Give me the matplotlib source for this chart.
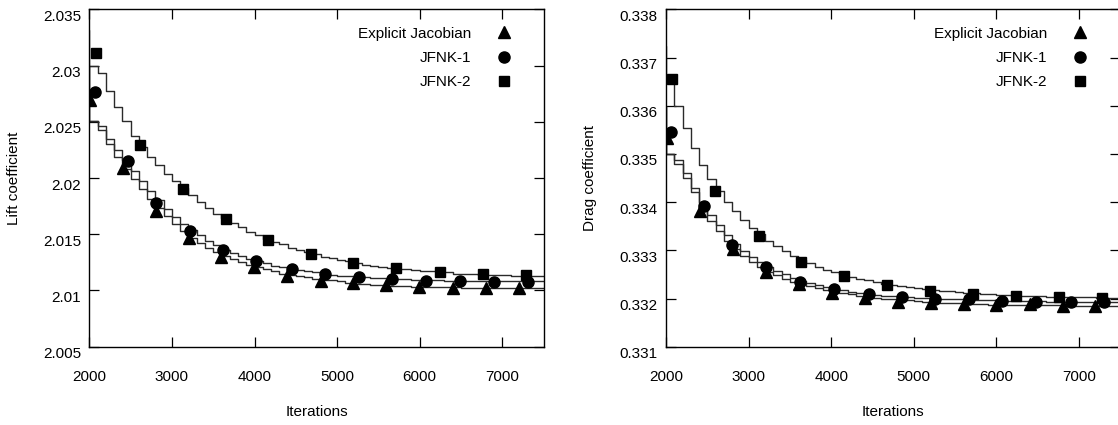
import matplotlib
matplotlib.use('Agg')
import matplotlib.pyplot as plt
from matplotlib.transforms import ScaledTranslation

plt.rcParams['font.family'] = ['Liberation Sans', 'DejaVu Sans']

# ---------------- data ----------------
# step-curve sample iterations (one step every 100 iterations, first entry precedes the axis start)
step_iters = [1900, 2000, 2100, 2200, 2300, 2400, 2500, 2600, 2700, 2800, 2900,
              3000, 3100, 3200, 3300, 3400, 3500, 3600, 3700, 3800, 3900,
              4000, 4100, 4200, 4300, 4400, 4500, 4600, 4700, 4800, 4900,
              5000, 5100, 5200, 5300, 5400, 5500, 5600, 5700, 5800, 5900,
              6000, 6100, 6200, 6300, 6400, 6500, 6600, 6700, 6800, 6900,
              7000, 7100, 7200, 7300, 7400, 7500]

lift_explicit_line = [2.0300, 2.0251, 2.0243, 2.0230, 2.0219, 2.0208, 2.0199, 2.0190, 2.0181, 2.0173, 2.0166,
                      2.0159, 2.0153, 2.0147, 2.0142, 2.0138, 2.0134, 2.0131, 2.0128, 2.0125, 2.0123,
                      2.0121, 2.0119, 2.0117, 2.0115, 2.0114, 2.0113, 2.0112, 2.0110, 2.0109, 2.0109,
                      2.0108, 2.0107, 2.0106, 2.0106, 2.0105, 2.0105, 2.0104, 2.0104, 2.0104, 2.0103,
                      2.0103, 2.0103, 2.0103, 2.0103, 2.0103, 2.0102, 2.0102, 2.0102, 2.0102, 2.0102,
                      2.0102, 2.0102, 2.0102, 2.0102, 2.0102, 2.0102]
lift_jfnk1_line = [2.0300, 2.0251, 2.0246, 2.0235, 2.0225, 2.0216, 2.0206, 2.0197, 2.0188, 2.0180, 2.0172,
                   2.0165, 2.0159, 2.0154, 2.0149, 2.0144, 2.0140, 2.0136, 2.0133, 2.0131, 2.0128,
                   2.0126, 2.0124, 2.0122, 2.0121, 2.0120, 2.0118, 2.0117, 2.0116, 2.0115, 2.0114,
                   2.0113, 2.0113, 2.0112, 2.0112, 2.0111, 2.0111, 2.0110, 2.0110, 2.0110, 2.0109,
                   2.0109, 2.0109, 2.0109, 2.0108, 2.0108, 2.0108, 2.0108, 2.0108, 2.0108, 2.0108,
                   2.0108, 2.0108, 2.0108, 2.0108, 2.0108, 2.0108]
lift_jfnk2_line = [2.0332, 2.0300, 2.0293, 2.0277, 2.0263, 2.0251, 2.0237, 2.0228, 2.0219, 2.0212, 2.0204,
                   2.0197, 2.0191, 2.0185, 2.0179, 2.0173, 2.0168, 2.0164, 2.0160, 2.0156, 2.0152,
                   2.0149, 2.0146, 2.0143, 2.0141, 2.0138, 2.0136, 2.0134, 2.0132, 2.0130, 2.0129,
                   2.0127, 2.0126, 2.0124, 2.0123, 2.0122, 2.0121, 2.0120, 2.0119, 2.0119, 2.0118,
                   2.0117, 2.0117, 2.0116, 2.0116, 2.0115, 2.0115, 2.0115, 2.0114, 2.0114, 2.0114,
                   2.0114, 2.0113, 2.0113, 2.0113, 2.0113, 2.0113]

drag_explicit_line = [0.33600, 0.33500, 0.33480, 0.33450, 0.33420, 0.33386, 0.33360, 0.33340, 0.33320, 0.33303, 0.33289,
                      0.33276, 0.33265, 0.33256, 0.33248, 0.33241, 0.33235, 0.33230, 0.33225, 0.33221, 0.33218,
                      0.33214, 0.33211, 0.33209, 0.33206, 0.33204, 0.33202, 0.33200, 0.33198, 0.33197, 0.33196,
                      0.33194, 0.33193, 0.33192, 0.33191, 0.33190, 0.33190, 0.33189, 0.33188, 0.33188, 0.33187,
                      0.33187, 0.33187, 0.33186, 0.33186, 0.33186, 0.33186, 0.33186, 0.33186, 0.33185, 0.33185,
                      0.33185, 0.33185, 0.33185, 0.33185, 0.33185, 0.33185]
drag_jfnk1_line = [0.33600, 0.33500, 0.33488, 0.33460, 0.33430, 0.33400, 0.33374, 0.33352, 0.33332, 0.33314, 0.33299,
                   0.33286, 0.33275, 0.33265, 0.33257, 0.33250, 0.33243, 0.33237, 0.33232, 0.33228, 0.33224,
                   0.33220, 0.33217, 0.33214, 0.33212, 0.33210, 0.33208, 0.33206, 0.33205, 0.33204, 0.33203,
                   0.33202, 0.33201, 0.33200, 0.33199, 0.33199, 0.33198, 0.33198, 0.33197, 0.33197, 0.33196,
                   0.33196, 0.33195, 0.33195, 0.33194, 0.33194, 0.33194, 0.33193, 0.33193, 0.33193, 0.33193,
                   0.33193, 0.33193, 0.33193, 0.33193, 0.33193, 0.33193]
drag_jfnk2_line = [0.33724, 0.33660, 0.33600, 0.33553, 0.33512, 0.33477, 0.33447, 0.33422, 0.33400, 0.33381, 0.33363,
                   0.33347, 0.33333, 0.33320, 0.33309, 0.33298, 0.33289, 0.33280, 0.33273, 0.33266, 0.33260,
                   0.33255, 0.33250, 0.33245, 0.33241, 0.33238, 0.33234, 0.33231, 0.33228, 0.33226, 0.33224,
                   0.33222, 0.33220, 0.33218, 0.33216, 0.33215, 0.33213, 0.33212, 0.33211, 0.33210, 0.33209,
                   0.33208, 0.33207, 0.33206, 0.33206, 0.33205, 0.33205, 0.33204, 0.33204, 0.33204, 0.33203,
                   0.33203, 0.33203, 0.33202, 0.33202, 0.33202, 0.33202]

# marker samples
lift_explicit_x = [2009, 2411, 2808, 3201, 3599, 3997, 4398, 4800, 5198, 5596, 5997, 6399, 6797, 7199]
lift_explicit_y = [2.02694, 2.02086, 2.01709, 2.01463, 2.01300, 2.01205, 2.01128, 2.01087, 2.01063,
                   2.01045, 2.01033, 2.01021, 2.01019, 2.01021]
lift_jfnk1_x = [2065, 2467, 2808, 3219, 3616, 4018, 4450, 4852, 5263, 5665, 6071, 6486, 6896, 7307]
lift_jfnk1_y = [2.02768, 2.02154, 2.01780, 2.01531, 2.01359, 2.01262, 2.01193, 2.01146, 2.01122,
                2.01105, 2.01087, 2.01087, 2.01078, 2.01078]
lift_jfnk2_x = [2078, 2614, 3132, 3651, 4169, 4688, 5198, 5717, 6244, 6762, 7281]
lift_jfnk2_y = [2.03115, 2.02293, 2.01899, 2.01632, 2.01448, 2.01324, 2.01241, 2.01196, 2.01161,
                2.01146, 2.01134]

drag_explicit_x = [2013, 2410, 2812, 3209, 3611, 4008, 4409, 4811, 5208, 5605, 5998, 6408, 6806, 7194]
drag_explicit_y = [0.33532, 0.33382, 0.33302, 0.33256, 0.33230, 0.33211, 0.33202, 0.33193, 0.33190,
                   0.33189, 0.33186, 0.33188, 0.33185, 0.33185]
drag_jfnk1_x = [2056, 2466, 2803, 3209, 3620, 4034, 4453, 4855, 5260, 5674, 6071, 6481, 6900, 7302]
drag_jfnk1_y = [0.33546, 0.33392, 0.33311, 0.33265, 0.33235, 0.33219, 0.33209, 0.33204, 0.33200,
                0.33198, 0.33195, 0.33193, 0.33193, 0.33192]
drag_jfnk2_x = [2078, 2596, 3122, 3640, 4158, 4676, 5194, 5712, 6235, 6753, 7280]
drag_jfnk2_y = [0.33655, 0.33422, 0.33330, 0.33275, 0.33247, 0.33227, 0.33216, 0.33209, 0.33205,
                0.33204, 0.33202]

series_labels = ['Explicit Jacobian', 'JFNK-1', 'JFNK-2']
x_ticks = [2000, 3000, 4000, 5000, 6000, 7000]
lift_ticks = [2.005, 2.01, 2.015, 2.02, 2.025, 2.03, 2.035]
lift_ticklabels = ['2.005', '2.01', '2.015', '2.02', '2.025', '2.03', '2.035']
drag_ticks = [0.331, 0.332, 0.333, 0.334, 0.335, 0.336, 0.337, 0.338]
drag_ticklabels = ['0.331', '0.332', '0.333', '0.334', '0.335', '0.336', '0.337', '0.338']

# ---------------- figure ----------------
W, H = 1118, 425
fig = plt.figure(figsize=(W / 100, H / 100), dpi=100)
ax_l = fig.add_axes([89.3 / W, 78.3 / H, 454.3 / W, 337.4 / H])
ax_r = fig.add_axes([666.0 / W, 78.3 / H, 454.3 / W, 337.4 / H])

FS = 11
line_kw = dict(color='#2a2a2a', lw=1.0, drawstyle='steps-post', zorder=2)
mk_kw = dict(color='black', linestyle='none', zorder=3)


def draw(ax, lines, markers, yticks, yticklabels, ylim, ylabel):
    for ys in lines:
        ax.plot(step_iters, ys, **line_kw)
    shapes = ['^', 'o', 's']
    sizes = [8.5, 8, 7.5]
    for (mx, my), shp, sz, lab in zip(markers, shapes, sizes, series_labels):
        ax.plot(mx, my, marker=shp, ms=sz, label=lab, **mk_kw)
    ax.set_xlim(2000, 7500)
    ax.set_ylim(*ylim)
    ax.set_xticks(x_ticks)
    ax.set_xticklabels([str(v) for v in x_ticks])
    ax.set_yticks(yticks)
    ax.set_yticklabels(yticklabels)
    ax.tick_params(direction='in', length=7, width=0.9, top=True, right=True,
                   labelsize=FS, colors='black')
    ax.tick_params(axis='x', pad=17)
    ax.tick_params(axis='y', pad=6)
    for sp in ax.spines.values():
        sp.set_linewidth(1.0)
    # y tick labels sit slightly below their tick marks
    off = ScaledTranslation(0, -6 / 100, fig.dpi_scale_trans)
    for t in ax.yaxis.get_major_ticks():
        t.label1.set_transform(t.label1.get_transform() + off)

    ax.set_xlabel('Iterations', fontsize=FS)
    ax.xaxis.set_label_coords(0.5, -(412 - 346.7) / 337.4)
    ax.xaxis.label.set_va('center')
    ax.set_ylabel(ylabel, fontsize=FS)
    ax.yaxis.label.set_va('center')

    leg = ax.legend(loc='upper right', bbox_to_anchor=(0.9287, 0.948), markerfirst=False,
                    frameon=False, fontsize=FS, handlelength=1.0, handletextpad=1.64,
                    labelspacing=0.66, borderpad=0, borderaxespad=0)
    return leg


draw(ax_l,
     [lift_explicit_line, lift_jfnk1_line, lift_jfnk2_line],
     [(lift_explicit_x, lift_explicit_y), (lift_jfnk1_x, lift_jfnk1_y), (lift_jfnk2_x, lift_jfnk2_y)],
     lift_ticks, lift_ticklabels, (2.005, 2.035), 'Lift coefficient')
ax_l.yaxis.set_label_coords((14.3 - 89.3) / 454.3, 0.5)

draw(ax_r,
     [drag_explicit_line, drag_jfnk1_line, drag_jfnk2_line],
     [(drag_explicit_x, drag_explicit_y), (drag_jfnk1_x, drag_jfnk1_y), (drag_jfnk2_x, drag_jfnk2_y)],
     drag_ticks, drag_ticklabels, (0.331, 0.338), 'Drag coefficient')
ax_r.yaxis.set_label_coords((590 - 666) / 454.3, 0.5)

fig.savefig('out.png', dpi=100)
